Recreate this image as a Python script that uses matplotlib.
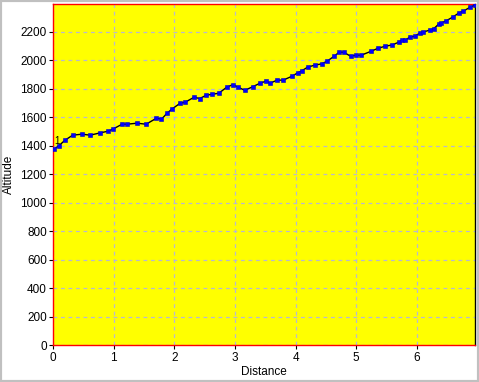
import matplotlib
matplotlib.use("Agg")
import matplotlib.pyplot as plt
from matplotlib.patches import Rectangle

# distance / altitude profile
distance = [0.017, 0.099, 0.198, 0.325, 0.479, 0.611, 0.776, 0.908, 0.985, 1.139,
            1.221, 1.386, 1.535, 1.706, 1.789, 1.881, 1.964, 2.096, 2.178, 2.327,
            2.421, 2.525, 2.624, 2.734, 2.866, 2.970, 3.048, 3.163, 3.290, 3.416,
            3.515, 3.581, 3.696, 3.795, 3.944, 4.033, 4.109, 4.198, 4.314, 4.429,
            4.521, 4.637, 4.719, 4.792, 4.908, 5.000, 5.083, 5.248, 5.363, 5.479,
            5.594, 5.700, 5.759, 5.809, 5.881, 5.964, 6.046, 6.096, 6.211, 6.277,
            6.360, 6.393, 6.475, 6.591, 6.690, 6.766, 6.881, 6.954]
altitude = [1375, 1401, 1439, 1474, 1481, 1474, 1490, 1502, 1516, 1551,
            1551, 1558, 1551, 1593, 1586, 1628, 1658, 1698, 1705, 1740,
            1731, 1754, 1761, 1768, 1811, 1829, 1811, 1789, 1813, 1839,
            1853, 1839, 1860, 1860, 1888, 1911, 1927, 1951, 1965, 1974,
            1993, 2028, 2056, 2056, 2028, 2035, 2035, 2063, 2084, 2098,
            2107, 2126, 2140, 2140, 2161, 2168, 2189, 2196, 2211, 2220,
            2253, 2260, 2274, 2302, 2330, 2344, 2372, 2386]
x_ticks = [0, 1, 2, 3, 4, 5, 6]
y_ticks = list(range(0, 2201, 200))

plt.rcParams['font.family'] = ['Liberation Sans', 'DejaVu Sans']
plt.rcParams['font.size'] = 8

fig = plt.figure(figsize=(4.79, 3.82), dpi=100, facecolor='white')
ax = fig.add_axes([0.1107, 0.0961, 0.8810, 0.8926], facecolor='#ffff00')

#grid first so the line sits on top
ax.grid(True, color='#b8b8d0', linestyle=(0, (3, 3)), linewidth=0.9)
ax.set_axisbelow(True)

ax.plot(distance, altitude, color='black', linewidth=1, zorder=3)
ax.plot(distance, altitude, linestyle='none', marker='s', markersize=3.0,
        markerfacecolor='#0000ff', markeredgecolor='#0000c0', markeredgewidth=0.4, zorder=4)
ax.text(distance[0] + 0.01, altitude[0] + 40, '1', fontsize=7, color='black', zorder=5)

ax.set_xlim(0, 6.96)
ax.set_ylim(0, 2392)
ax.set_xticks(x_ticks)
ax.set_yticks(y_ticks)
ax.tick_params(direction='out', length=3, width=0.8, colors='black', labelsize=8.5, pad=1.5)

for side in ['left', 'bottom', 'top']:
    ax.spines[side].set_color('#ff0000')
    ax.spines[side].set_linewidth(1)
ax.spines['right'].set_color('black')
ax.spines['right'].set_linewidth(1)

ax.set_xlabel('Distance', fontsize=8.5, labelpad=2)
ax.set_ylabel('Altitude', fontsize=8.5, labelpad=4)

#window border
fig.patches.append(Rectangle((0, 0), 1, 1, transform=fig.transFigure, fill=False,
                             edgecolor='#c0c0c0', linewidth=3))

fig.savefig('out.png', dpi=100, facecolor='white')
